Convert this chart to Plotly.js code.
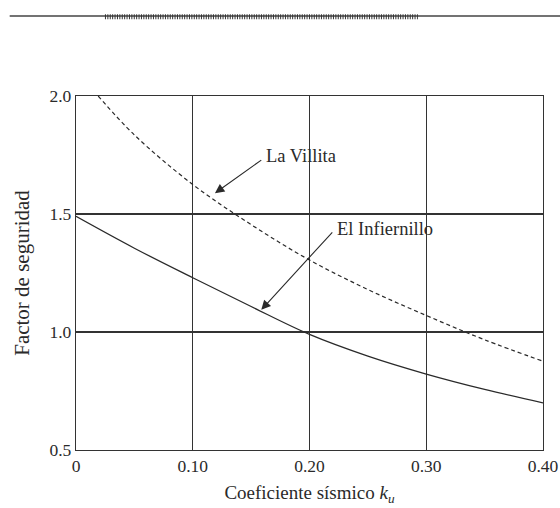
<!DOCTYPE html>
<html>
<head>
<meta charset="utf-8">
<script src="https://cdn.plot.ly/plotly-3.0.1.min.js"></script>
<style>html,body{margin:0;padding:0;background:#fff;}#chart{width:560px;height:508px;}</style>
</head>
<body>
<div id="chart"></div>
<script>
// Data
const kvInfiernillo = [0, 0.05, 0.10, 0.15, 0.20, 0.25, 0.30, 0.35, 0.40];
const fsInfiernillo = [1.49, 1.355, 1.23, 1.108, 0.99, 0.898, 0.822, 0.757, 0.70];
const kvVillita = [0.019, 0.05, 0.10, 0.15, 0.20, 0.25, 0.30, 0.35, 0.40];
const fsVillita = [2.0, 1.835, 1.625, 1.455, 1.305, 1.18, 1.07, 0.967, 0.876];
const xTickVals = [0, 0.10, 0.20, 0.30, 0.40];
const xTickText = ["0", "0.10", "0.20", "0.30", "0.40"];
const yTickVals = [0.5, 1.0, 1.5, 2.0];
const yTickText = ["0.5", "1.0", "1.5", "2.0"];
const labelVillita = "La Villita";
const labelInfiernillo = "El Infiernillo";

const FONT = "Liberation Serif, 'DejaVu Serif', serif";
const INK = "#2a2a2a";

const traces = [
  {x: kvInfiernillo, y: fsInfiernillo, type: "scatter", mode: "lines",
   line: {color: INK, width: 1.3, shape: "spline", smoothing: 1}, hoverinfo: "skip"},
  {x: kvVillita, y: fsVillita, type: "scatter", mode: "lines",
   line: {color: INK, width: 1.2, dash: "4px,3px", shape: "spline", smoothing: 1}, hoverinfo: "skip"}
];

const layout = {
  width: 560, height: 508, autosize: false,
  paper_bgcolor: "#fff", plot_bgcolor: "#fff",
  margin: {l: 76, r: 17, t: 96, b: 58, pad: 0},
  showlegend: false,
  font: {family: FONT, color: INK, size: 17},
  xaxis: {
    range: [0, 0.4], tickvals: xTickVals, ticktext: xTickText,
    showgrid: true, gridcolor: "#333", gridwidth: 1.2, zeroline: false,
    showline: true, mirror: true, linecolor: "#333", linewidth: 1.2,
    ticks: "", ticklen: 0, tickfont: {family: FONT, size: 17.5, color: INK},
    title: {text: "Coeficiente sísmico <i>k</i><sub><i>u</i></sub>", font: {family: FONT, size: 19, color: INK}, standoff: 10},
    fixedrange: true
  },
  yaxis: {
    range: [0.5, 2.0], tickvals: yTickVals, ticktext: yTickText,
    showgrid: true, gridcolor: "#333", gridwidth: 1.2, zeroline: false,
    showline: true, mirror: true, linecolor: "#333", linewidth: 1.2,
    ticks: "", ticklen: 0, tickfont: {family: FONT, size: 17.5, color: INK},
    title: {text: "Factor de seguridad", font: {family: FONT, size: 21, color: INK}, standoff: 14},
    fixedrange: true
  },
  shapes: [
    {type: "line", xref: "paper", yref: "paper", x0: -0.142, x1: 1.04, y0: 1.226, y1: 1.226,
     line: {color: "#444", width: 1.5}},
    {type: "line", xref: "paper", yref: "paper", x0: 0.062, x1: 0.732, y0: 1.224, y1: 1.224,
     line: {color: "#333", width: 5, dash: "1px,1.4px"}}
  ],
  annotations: [
    {x: 0.119, y: 1.588, ax: 0.160, ay: 1.733, xref: "x", yref: "y", axref: "x", ayref: "y",
     text: "", showarrow: true, arrowhead: 2, arrowsize: 1.7, arrowwidth: 1.1, arrowcolor: INK},
    {x: 0.161, y: 1.745, xref: "x", yref: "y", text: labelVillita, showarrow: false,
     xanchor: "left", yanchor: "middle", font: {family: FONT, size: 18.5, color: INK}},
    {x: 0.1587, y: 1.094, ax: 0.2207, ay: 1.429, xref: "x", yref: "y", axref: "x", ayref: "y",
     text: "", showarrow: true, arrowhead: 2, arrowsize: 1.7, arrowwidth: 1.1, arrowcolor: INK},
    {x: 0.2222, y: 1.436, xref: "x", yref: "y", text: labelInfiernillo, showarrow: false,
     xanchor: "left", yanchor: "middle", font: {family: FONT, size: 18.5, color: INK}}
  ]
};

Plotly.newPlot("chart", traces, layout, {staticPlot: true, displayModeBar: false});
</script>
</body>
</html>
